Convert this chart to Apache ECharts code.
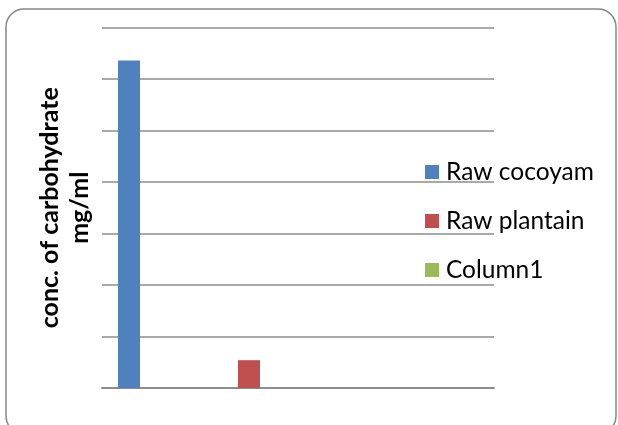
<!DOCTYPE html>
<html>
<head>
<meta charset="utf-8">
<script src="https://cdn.jsdelivr.net/npm/echarts@6/dist/echarts.min.js"></script>
<style>
  html, body { margin: 0; padding: 0; background: #fff; }
  #chart { width: 618px; height: 425px; }
</style>
</head>
<body>
<div id="chart"></div>
<script>
// Carbohydrate concentration (mg/ml) per sample
const categories = ['', '', '', ''];
const seriesNames = ['Raw cocoyam', 'Raw plantain', 'Column1'];
const rawCocoyam = [63.6, null, null, null];
const rawPlantain = [null, 5.4, null, null];
const column1 = [null, null, null, null];
const axisMax = 70;
const axisStep = 10;

const colors = ['#4f81bd', '#c0504d', '#9bbb59'];
const gridColor = '#8c8c8c';
const fontFamily = 'Lato, "Liberation Sans", sans-serif';

const chart = echarts.init(document.getElementById('chart'), null, { renderer: 'canvas' });

const values = [rawCocoyam, rawPlantain, column1];

chart.setOption({
  animation: false,
  color: colors,
  graphic: [{
    type: 'rect',
    z: -10,
    shape: { x: 6, y: 9, width: 610, height: 425, r: 18 },
    style: { fill: '#fff', stroke: '#868686', lineWidth: 1.5 }
  }],
  grid: { left: 102, right: 124, top: 27.5, bottom: 37, containLabel: false },
  legend: {
    orient: 'vertical',
    left: 425,
    top: 159.5,
    padding: 0,
    itemWidth: 14,
    itemHeight: 14,
    itemGap: 24,
    icon: 'rect',
    data: seriesNames,
    textStyle: {
      fontFamily: fontFamily,
      fontSize: 24.5,
      lineHeight: 24,
      color: '#000',
      padding: [0, 0, 0, 2]
    }
  },
  xAxis: {
    type: 'category',
    data: categories,
    axisLine: { show: true, lineStyle: { color: gridColor, width: 2 } },
    axisTick: { show: false },
    axisLabel: { show: false }
  },
  yAxis: {
    type: 'value',
    min: 0,
    max: axisMax,
    interval: axisStep,
    name: 'conc. of carbohydrate\nmg/ml',
    nameLocation: 'middle',
    nameGap: 7,
    nameTextStyle: {
      fontFamily: fontFamily,
      fontSize: 25,
      fontWeight: 'bold',
      color: '#000',
      lineHeight: 30
    },
    axisLine: { show: false },
    axisTick: { show: false },
    axisLabel: { show: false },
    splitLine: { show: true, lineStyle: { color: gridColor, width: 1.5 } }
  },
  series: seriesNames.map((name, i) => ({
    name: name,
    type: 'bar',
    data: values[i],
    barWidth: 22,
    barGap: '0%',
    itemStyle: { color: colors[i] }
  }))
});
</script>
</body>
</html>
